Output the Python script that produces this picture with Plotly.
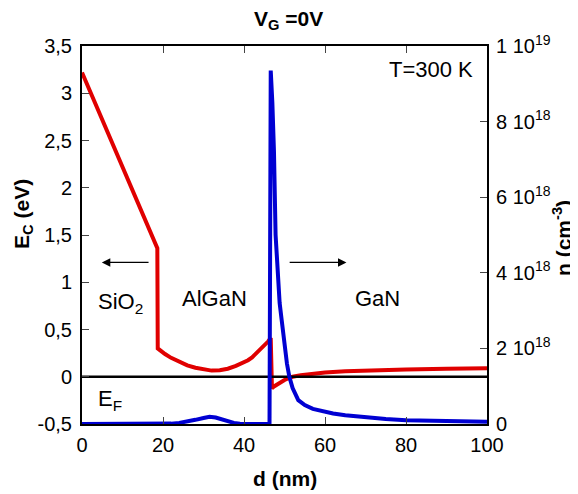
import plotly.graph_objects as go

# Conduction band edge Ec (eV) vs depth d (nm)
ec_d = [0, 18.6, 18.7, 19.5, 20.5, 22, 24, 26, 28, 30, 32, 34, 36, 38, 40, 41, 42, 43, 44, 45, 46,
        46.6, 46.9, 47.5, 48.5, 50, 51, 52, 54, 56, 58, 60, 65, 70, 75, 80, 90, 100]
ec_v = [3.22, 1.36, 0.30, 0.27, 0.24, 0.20, 0.155, 0.12, 0.095, 0.075, 0.065, 0.07, 0.085, 0.115,
        0.15, 0.175, 0.205, 0.245, 0.285, 0.33, 0.375, 0.41,
        -0.12, -0.10, -0.07, -0.035, -0.015, 0.0, 0.015, 0.028, 0.038, 0.045, 0.058, 0.066,
        0.072, 0.077, 0.085, 0.09]

# Electron density n (cm^-3) vs depth d (nm)
n_d = [0, 20, 22, 24, 26, 28, 30, 31.5, 33, 34.5, 36, 37.5, 39, 40, 46.3, 46.6, 47.0, 47.4, 47.8,
       48.3, 48.8, 49.3, 50, 50.6, 51.2, 52, 53.4, 55, 57, 59.5, 62, 65, 69, 75, 80, 90, 100]
n_v = [0, 0, 0.01e18, 0.03e18, 0.06e18, 0.11e18, 0.16e18, 0.19e18, 0.17e18, 0.12e18, 0.07e18,
       0.03e18, 0.01e18, 0, 0, 9.35e18, 8.5e18, 7.2e18, 5.0e18, 3.9e18, 3.2e18, 2.75e18, 2.1e18,
       1.6e18, 1.25e18, 0.95e18, 0.63e18, 0.5e18, 0.4e18, 0.33e18, 0.28e18, 0.23e18, 0.18e18,
       0.13e18, 0.1e18, 0.08e18, 0.06e18]

# Fermi level
ef_d = [0, 100]
ef_v = [0, 0]

ec_ticks = [-0.5, 0, 0.5, 1, 1.5, 2, 2.5, 3, 3.5]
ec_ticktext = ["-0,5", "0", "0,5", "1", "1,5", "2", "2,5", "3", "3,5"]
n_ticks = [0, 2e18, 4e18, 6e18, 8e18, 1e19]
n_ticktext = ["0", "2 10<sup>18</sup>", "4 10<sup>18</sup>", "6 10<sup>18</sup>",
              "8 10<sup>18</sup>", "1 10<sup>19</sup>"]
d_ticks = [0, 20, 40, 60, 80, 100]

FONT = "Liberation Sans, Arial, sans-serif"
RED = "#e00000"
BLUE = "#0000d2"
TXT = dict(size=22, color="black", family=FONT)
TTL = dict(size=21, color="black", family=FONT)

fig = go.Figure()
fig.add_trace(go.Scatter(x=ec_d, y=ec_v, mode="lines", line=dict(color=RED, width=4),
                         showlegend=False, yaxis="y"))
fig.add_trace(go.Scatter(x=ef_d, y=ef_v, mode="lines", line=dict(color="black", width=2.5),
                         showlegend=False, yaxis="y"))
fig.add_trace(go.Scatter(x=n_d, y=n_v, mode="lines", line=dict(color=BLUE, width=4),
                         showlegend=False, yaxis="y2"))

# page body has an 8px margin: compensate so the plot box lands at 82..487 x 46..424
OFF = 8
W, H = 578, 494
L, R, T, B = 82 - OFF, W - (487 - OFF), 46 - OFF, H - (424 - OFF)
PW, PH = W - L - R, H - T - B


def px(sx):
    return (sx - OFF - L) / PW


def py(sy):
    return (H - (sy - OFF) - B) / PH


annotations = [
    dict(x=4.9, y=1.21, ax=16.8, ay=1.21, xref="x", yref="y", axref="x", ayref="y",
         showarrow=True, arrowhead=2, arrowsize=1.3, arrowwidth=1.3, arrowcolor="black", text=""),
    dict(x=65.3, y=1.21, ax=50.9, ay=1.21, xref="x", yref="y", axref="x", ayref="y",
         showarrow=True, arrowhead=2, arrowsize=1.3, arrowwidth=1.3, arrowcolor="black", text=""),
    dict(x=9.6, y=0.78, xref="x", yref="y", text="SiO<sub>2</sub>", showarrow=False, font=TXT),
    dict(x=32.8, y=0.83, xref="x", yref="y", text="AlGaN", showarrow=False, font=TXT),
    dict(x=72.9, y=0.83, xref="x", yref="y", text="GaN", showarrow=False, font=TXT),
    dict(x=7.0, y=-0.25, xref="x", yref="y", text="E<sub>F</sub>", showarrow=False, font=TXT),
    dict(x=97.0, y=3.25, xref="x", yref="y", text="T=300 K", showarrow=False, xanchor="right",
         font=TXT),
    dict(x=px(288), y=py(20), xref="paper", yref="paper", text="<b>V<sub>G</sub> =0V</b>",
         showarrow=False, xanchor="center", yanchor="middle", font=TTL),
    dict(x=px(285), y=py(478), xref="paper", yref="paper", text="<b>d (nm)</b>",
         showarrow=False, xanchor="center", yanchor="middle", font=TTL),
    dict(x=px(23), y=py(214), xref="paper", yref="paper", text="<b>E<sub>C</sub> (eV)</b>",
         showarrow=False, textangle=-90, xanchor="center", yanchor="middle", font=TTL),
    dict(x=px(562), y=py(238), xref="paper", yref="paper", text="<b>n (cm<sup>-3</sup>)</b>",
         showarrow=False, textangle=-90, xanchor="center", yanchor="middle", font=TTL),
]

fig.update_layout(
    width=W, height=H,
    margin=dict(l=L, r=R, t=T, b=B),
    paper_bgcolor="white", plot_bgcolor="white",
    font=dict(family=FONT, size=20, color="black"),
    xaxis=dict(range=[0, 100], tickvals=d_ticks, showgrid=False, zeroline=False,
               showline=True, linecolor="black", linewidth=2, mirror="ticks",
               ticks="inside", ticklen=7, tickwidth=1, tickcolor="#444",
               tickfont=dict(size=20), ticklabelstandoff=2, automargin=False),
    yaxis=dict(range=[-0.5, 3.5], tickvals=ec_ticks, ticktext=ec_ticktext, showgrid=False,
               zeroline=False, showline=True, linecolor="black", linewidth=2,
               ticks="inside", ticklen=7, tickwidth=1, tickcolor="#444",
               tickfont=dict(size=20), ticklabelstandoff=4, automargin=False),
    yaxis2=dict(range=[0, 1e19], tickvals=n_ticks, ticktext=n_ticktext, overlaying="y",
                side="right", showgrid=False, zeroline=False, showline=True, linecolor="black",
                linewidth=2, ticks="inside", ticklen=7, tickwidth=1, tickcolor="#444",
                tickfont=dict(size=20), ticklabelstandoff=3, automargin=False),
    annotations=annotations,
)

fig.write_html("out.html")
